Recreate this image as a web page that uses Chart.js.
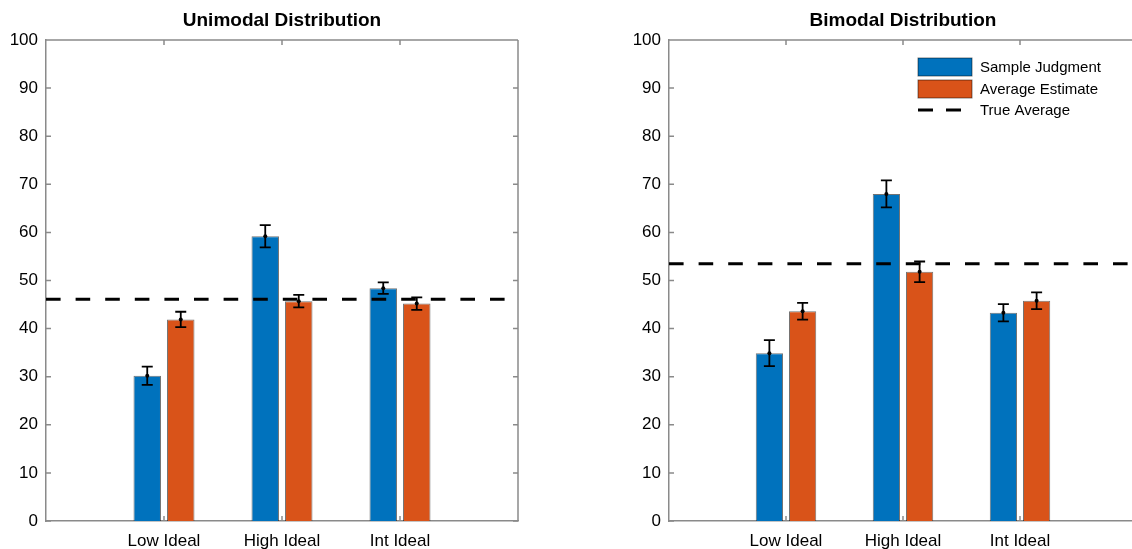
<!DOCTYPE html>
<html>
<head>
<meta charset="utf-8">
<script src="https://cdn.jsdelivr.net/npm/chart.js@4"></script>
<style>
  html, body { margin: 0; background: #fff; overflow: hidden; }
  #wrap { position: relative; width: 1132px; height: 549px; overflow: hidden; }
  canvas { position: absolute; top: 0; }
</style>
</head>
<body>
<div id="wrap">
<canvas id="uni" width="560" height="570" style="left:0px"></canvas>
<canvas id="bi" width="620" height="570" style="left:590px"></canvas>
</div>
<script>
// categories (empty slots at both ends give the MATLAB-like margins)
const categories = ['', 'Low Ideal', 'High Ideal', 'Int Ideal', ''];
const seriesNames = ['Sample Judgment', 'Average Estimate', 'True Average'];

// unimodal panel
const uniSample = [null, 30.2, 59.2, 48.4, null];
const uniSampleErr = [null, 1.9, 2.3, 1.2, null];
const uniEstimate = [null, 41.9, 45.7, 45.2, null];
const uniEstimateErr = [null, 1.6, 1.3, 1.3, null];
const uniTrue = 46.1;

// bimodal panel
const biSample = [null, 34.9, 68.0, 43.3, null];
const biSampleErr = [null, 2.7, 2.8, 1.8, null];
const biEstimate = [null, 43.6, 51.8, 45.8, null];
const biEstimateErr = [null, 1.75, 2.15, 1.75, null];
const biTrue = 53.5;

const blue = '#0072BD';
const orange = '#D95319';
const axisGray = '#8a8a8a';

Chart.defaults.font.family = "'Liberation Sans', Arial, sans-serif";
Chart.defaults.color = '#000';

// box, inward ticks, title, error bars, optional legend
const matlabLook = {
  id: 'matlabLook',
  beforeDatasetsDraw(chart, args, opts) {
    const { ctx, chartArea: a, scales: { x, y } } = chart;
    ctx.save();
    ctx.strokeStyle = axisGray;
    ctx.lineWidth = 1.5;
    ctx.beginPath();
    ctx.moveTo(a.left, a.top); ctx.lineTo(a.right, a.top);
    if (opts.rightSide) {
      ctx.moveTo(a.right, a.top); ctx.lineTo(a.right, a.bottom);
    }
    y.ticks.forEach(t => {
      const py = y.getPixelForValue(t.value);
      ctx.moveTo(a.left, py); ctx.lineTo(a.left + 5, py);
      if (opts.rightSide) {
        ctx.moveTo(a.right, py); ctx.lineTo(a.right - 5, py);
      }
    });
    for (let i = 1; i < categories.length - 1; i++) {
      const px = x.getPixelForValue(i);
      ctx.moveTo(px, a.top); ctx.lineTo(px, a.top + 5);
      ctx.moveTo(px, a.bottom); ctx.lineTo(px, a.bottom - 5);
    }
    ctx.stroke();
    ctx.restore();
  },
  afterDatasetsDraw(chart) {
    const { ctx, scales: { y } } = chart;
    ctx.save();
    ctx.strokeStyle = '#000';
    ctx.fillStyle = '#000';
    ctx.lineWidth = 1.8;
    chart.data.datasets.forEach((ds, di) => {
      if (!ds.errors) return;
      const meta = chart.getDatasetMeta(di);
      ds.data.forEach((v, i) => {
        if (v == null) return;
        const bar = meta.data[i];
        const e = ds.errors[i];
        const top = y.getPixelForValue(v + e);
        const bot = y.getPixelForValue(v - e);
        ctx.beginPath();
        ctx.moveTo(bar.x, top); ctx.lineTo(bar.x, bot);
        ctx.moveTo(bar.x - 5.5, top); ctx.lineTo(bar.x + 5.5, top);
        ctx.moveTo(bar.x - 5.5, bot); ctx.lineTo(bar.x + 5.5, bot);
        ctx.stroke();
        ctx.beginPath();
        ctx.arc(bar.x, bar.y, 2, 0, Math.PI * 2);
        ctx.fill();
      });
    });
    ctx.restore();
  },
  afterDraw(chart, args, opts) {
    const { ctx, chartArea: a } = chart;
    ctx.save();
    ctx.fillStyle = '#000';
    ctx.font = "bold 19px 'Liberation Sans', Arial, sans-serif";
    ctx.textAlign = 'center';
    ctx.textBaseline = 'middle';
    ctx.fillText(opts.title, (a.left + a.right) / 2, 21);
    if (opts.legend) {
      const lx = a.right - 219;
      const rows = [67, 89, 110];
      ctx.font = "15px 'Liberation Sans', Arial, sans-serif";
      ctx.textAlign = 'left';
      [blue, orange].forEach((c, k) => {
        ctx.fillStyle = c;
        ctx.fillRect(lx, rows[k] - 9, 54, 18);
        ctx.strokeStyle = 'rgba(0,0,0,0.5)';
        ctx.lineWidth = 1;
        ctx.strokeRect(lx, rows[k] - 9, 54, 18);
      });
      ctx.strokeStyle = '#000';
      ctx.lineWidth = 3;
      ctx.setLineDash([15, 13]);
      ctx.beginPath();
      ctx.moveTo(lx, rows[2]); ctx.lineTo(lx + 54, rows[2]);
      ctx.stroke();
      ctx.setLineDash([]);
      ctx.fillStyle = '#000';
      seriesNames.forEach((n, k) => ctx.fillText(n, lx + 62, rows[k] + 1));
    }
    ctx.restore();
  }
};

function makePanel(id, title, sample, sampleErr, estimate, estimateErr, trueAvg, padLeft, padRight, legend, rightSide) {
  return new Chart(document.getElementById(id), {
    type: 'bar',
    data: {
      labels: categories,
      datasets: [
        { type: 'line', label: seriesNames[2], data: categories.map(() => trueAvg),
          borderColor: '#000', borderWidth: 3, borderDash: [14.6, 15], pointRadius: 0, order: 0 },
        { label: seriesNames[0], data: sample, errors: sampleErr, backgroundColor: blue,
          borderColor: 'rgba(0,0,0,0.55)', borderWidth: 1, order: 1 },
        { label: seriesNames[1], data: estimate, errors: estimateErr, backgroundColor: orange,
          borderColor: 'rgba(0,0,0,0.55)', borderWidth: 1, order: 1 }
      ]
    },
    options: {
      responsive: false,
      animation: false,
      categoryPercentage: 0.568,
      barPercentage: 0.82,
      layout: { padding: { top: 40, left: padLeft, right: padRight, bottom: 0 } },
      plugins: {
        legend: { display: false },
        tooltip: { enabled: false },
        matlabLook: { title: title, legend: legend, rightSide: rightSide }
      },
      scales: {
        x: {
          offset: false,
          grid: { display: false, drawTicks: false },
          border: { display: true, color: axisGray, width: 1.5 },
          ticks: { font: { size: 17 }, padding: 10, maxRotation: 0, autoSkip: false },
          afterFit(s) { s.height = 49; }
        },
        y: {
          min: 0, max: 100,
          grid: { display: false, drawTicks: false },
          border: { display: true, color: axisGray, width: 1.5 },
          ticks: { stepSize: 10, font: { size: 17 }, padding: 8 },
          afterFit(s) { s.width = 46; }
        }
      }
    },
    plugins: [matlabLook]
  });
}

makePanel('uni', 'Unimodal Distribution', uniSample, uniSampleErr, uniEstimate, uniEstimateErr, uniTrue, 0, 42, false, true);
makePanel('bi', 'Bimodal Distribution', biSample, biSampleErr, biEstimate, biEstimateErr, biTrue, 33, 73, true, false);
</script>
</body>
</html>
